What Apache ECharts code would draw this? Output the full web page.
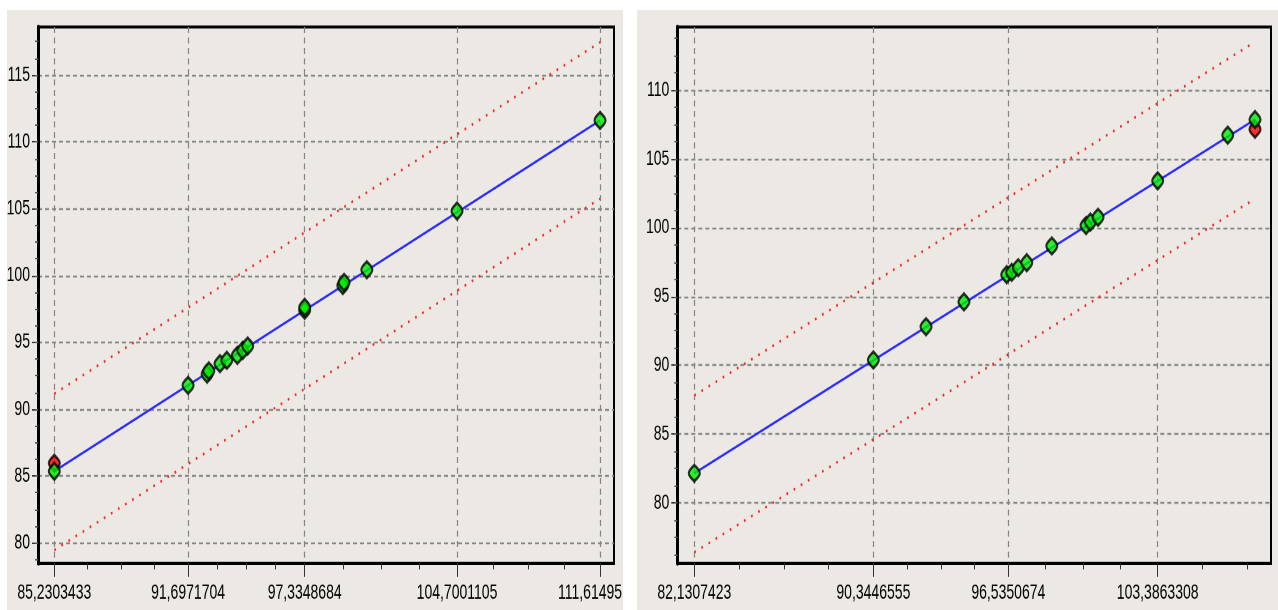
<!DOCTYPE html>
<html><head><meta charset="utf-8">
<script src="https://cdn.jsdelivr.net/npm/echarts@6/dist/echarts.min.js"></script>
<style>
html,body{margin:0;padding:0;background:#fff;overflow:hidden;}
#wrap{width:1278px;height:610px;overflow:hidden;position:relative;}
#chart{width:1278px;height:407px;transform:scaleY(1.49877);transform-origin:0 0;}
</style></head><body><div id="wrap"><div id="chart"></div></div>
<script>
// ---------- data (left chart) ----------
const leftXTicks = [85.2303433, 91.6971704, 97.3348684, 104.7001105, 111.61495];
const leftXLabels = ['85,2303433', '91,6971704', '97,3348684', '104,7001105', '111,61495'];
const leftXMinor = [86.847, 88.464, 90.080, 93.107, 94.516, 95.926, 99.176, 101.018, 102.859, 106.429, 108.157, 109.886];
const leftYTicks = [80, 85, 90, 95, 100, 105, 110, 115];
const leftGreen = [
  [85.2303, 85.35], [91.6972, 91.78], [92.62, 92.62], [92.70, 92.86], [93.24, 93.40],
  [93.57, 93.65], [94.08, 94.02], [94.34, 94.39], [94.58, 94.72], [97.3349, 97.40],
  [97.3349, 97.62], [99.18, 99.25], [99.24, 99.48], [100.34, 100.43], [104.7001, 104.82],
  [111.615, 111.60]
];
const leftRed = [[85.2303, 85.95]];
const leftFit = [[85.2303, 85.35], [111.615, 111.60]];
const leftUpper = [[85.2303, 91.15], [111.615, 117.45]];
const leftLower = [[85.2303, 79.45], [111.615, 105.75]];

// ---------- data (right chart) ----------
const rightXTicks = [82.1307423, 90.3446555, 96.5350674, 103.3863308];
const rightXLabels = ['82,1307423', '90,3446555', '96,5350674', '103,3863308'];
const rightXMinor = [84.184, 86.238, 88.291, 91.892, 93.440, 94.988, 98.248, 99.961, 101.674, 105.44, 107.49];
const rightYTicks = [80, 85, 90, 95, 100, 105, 110];
const rightGreen = [
  [82.1307, 82.15], [90.3447, 90.38], [92.76, 92.80], [94.50, 94.60], [96.46, 96.58],
  [96.69, 96.75], [96.99, 97.09], [97.38, 97.45], [98.53, 98.67], [100.10, 100.15],
  [100.30, 100.40], [100.65, 100.75], [103.3863, 103.40], [106.60, 106.72], [107.85, 107.85]
];
const rightRed = [[107.85, 107.15]];
const rightFit = [[82.1307, 82.15], [107.85, 107.85]];
const rightUpper = [[82.1307, 87.80], [107.85, 113.50]];
const rightLower = [[82.1307, 76.40], [107.85, 102.10]];

// ---------- layout helpers ----------
const S = 610 / 407;
const u = v => v / S;
const FONT = '"Liberation Sans", Arial, sans-serif';
const GRIDC = '#858585';
const TXT = '#000';

function minorStep(min, max, step) { const a = []; for (let v = Math.ceil(min / step) * step; v <= max; v += step) a.push(+v.toFixed(3)); return a; }

function mainX(gi, min, max, ticks, labels, shiftLast) {
  return {
    type: 'value', gridIndex: gi, min, max, position: 'bottom',
    axisLine: { show: true, onZero: false, lineStyle: { color: '#000', width: 2 } },
    axisTick: { show: true, customValues: ticks, length: 9, lineStyle: { color: '#333', width: 1 } },
    axisLabel: {
      show: true, customValues: ticks, margin: 13, color: TXT, fontSize: 14, fontFamily: FONT,
      formatter: v => {
        const i = ticks.indexOf(v);
        const s = i >= 0 ? labels[i] : '';
        return (shiftLast && i === ticks.length - 1) ? '{e|' + s + '}' : s;
      },
      rich: { e: { padding: [0, 20, 0, 0], color: TXT, fontSize: 14, fontFamily: FONT } }
    },
    splitLine: { show: true, lineStyle: { color: GRIDC, type: [4, 3], width: 1.2 } }
  };
}
function minorX(gi, min, max, ticks) {
  return {
    type: 'value', gridIndex: gi, min, max, position: 'bottom',
    axisLine: { show: false, onZero: false },
    axisTick: { show: true, customValues: ticks, length: 4, lineStyle: { color: '#333', width: 1 } },
    axisLabel: { show: false }, splitLine: { show: false }
  };
}
function mainY(gi, min, max, ticks) {
  return {
    type: 'value', gridIndex: gi, min, max, position: 'left',
    axisLine: { show: true, onZero: false, lineStyle: { color: '#000', width: 3 } },
    axisTick: { show: true, customValues: ticks, length: 6, lineStyle: { color: '#333', width: 1 } },
    axisLabel: { show: true, customValues: ticks, margin: 8, color: TXT, fontSize: 14, fontFamily: FONT },
    splitLine: { show: true, lineStyle: { color: GRIDC, type: [4, 3], width: 1.2 } }
  };
}
function minorY(gi, min, max, ticks) {
  return {
    type: 'value', gridIndex: gi, min, max, position: 'left',
    axisLine: { show: false, onZero: false },
    axisTick: { show: true, customValues: ticks, length: 3, lineStyle: { color: '#555', width: 1 } },
    axisLabel: { show: false }, splitLine: { show: false }
  };
}
const SYM = 'path://M5 0 C6.8 1.6 10 3 10 5 C10 7 6.8 8.4 5 10 C3.2 8.4 0 7 0 5 C0 3 3.2 1.6 5 0 Z';
function seriesFor(xi, yi, upper, lower, fit, red, green) {
  const dotted = { color: '#ff2020', width: 1.7, type: [1.7, 6] };
  const mk = { symbol: SYM, symbolSize: [11, 11] };
  return [
    { type: 'line', xAxisIndex: xi, yAxisIndex: yi, data: upper, symbol: 'none', silent: true, lineStyle: dotted, z: 3 },
    { type: 'line', xAxisIndex: xi, yAxisIndex: yi, data: lower, symbol: 'none', silent: true, lineStyle: dotted, z: 3 },
    { type: 'line', xAxisIndex: xi, yAxisIndex: yi, data: fit, symbol: 'none', silent: true, lineStyle: { color: '#2b2bff', width: 1.6 }, z: 4 },
    Object.assign({ type: 'scatter', xAxisIndex: xi, yAxisIndex: yi, data: red, itemStyle: { color: '#ff0000', borderColor: '#000', borderWidth: 2 }, z: 5 }, mk),
    Object.assign({ type: 'scatter', xAxisIndex: xi, yAxisIndex: yi, data: green, itemStyle: { color: '#00ee00', borderColor: '#000', borderWidth: 2 }, z: 6 }, mk)
  ];
}

const L = { xmin: 84.442, xmax: 112.29, ymin: 78.46, ymax: 118.59 };
const R = { xmin: 81.351, xmax: 108.584, ymin: 75.6, ymax: 114.58 };
const PANEL = '#ece9e4';

const chart = echarts.init(document.getElementById('chart'), null, { renderer: 'canvas', devicePixelRatio: 2 });
chart.setOption({
  animation: false,
  backgroundColor: '#ffffff',
  graphic: { elements: [
    { type: 'rect', z: -100, silent: true, shape: { x: 7, y: u(10), width: 616, height: 410 }, style: { fill: PANEL } },
    { type: 'rect', z: -100, silent: true, shape: { x: 637, y: u(10), width: 641, height: 410 }, style: { fill: PANEL } }
  ] },
  grid: [
    { left: 38, top: u(27), width: 576, height: u(563.3) - u(27), show: true, borderColor: '#000', borderWidth: 2, backgroundColor: 'transparent' },
    { left: 677.3, top: u(27), width: 593.7, height: u(563.3) - u(27), show: true, borderColor: '#000', borderWidth: 2, backgroundColor: 'transparent' }
  ],
  xAxis: [
    mainX(0, L.xmin, L.xmax, leftXTicks, leftXLabels, true),
    minorX(0, L.xmin, L.xmax, leftXMinor),
    mainX(1, R.xmin, R.xmax, rightXTicks, rightXLabels, false),
    minorX(1, R.xmin, R.xmax, rightXMinor)
  ],
  yAxis: [
    mainY(0, L.ymin, L.ymax, leftYTicks),
    minorY(0, L.ymin, L.ymax, minorStep(L.ymin, L.ymax, 1.25)),
    mainY(1, R.ymin, R.ymax, rightYTicks),
    minorY(1, R.ymin, R.ymax, minorStep(R.ymin, R.ymax, 1.25))
  ],
  series: [
    ...seriesFor(0, 0, leftUpper, leftLower, leftFit, leftRed, leftGreen),
    ...seriesFor(2, 2, rightUpper, rightLower, rightFit, rightRed, rightGreen)
  ]
});
</script></body></html>
